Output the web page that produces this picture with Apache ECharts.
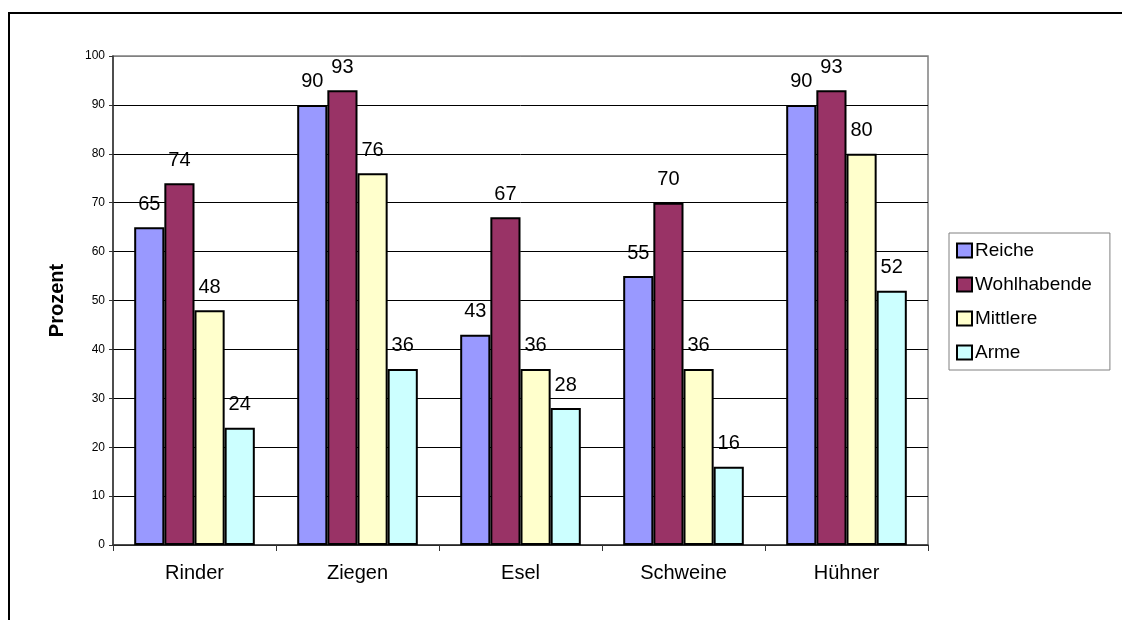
<!DOCTYPE html>
<html>
<head>
<meta charset="utf-8">
<script src="https://cdn.jsdelivr.net/npm/echarts@6/dist/echarts.min.js"></script>
<style>
  html, body { margin: 0; padding: 0; background: #fff; }
  #chart { width: 1122px; height: 620px; }
</style>
</head>
<body>
<div id="chart"></div>
<script>
const categories = ['Rinder', 'Ziegen', 'Esel', 'Schweine', 'Hühner']
const reiche = [65, 90, 43, 55, 90]
const wohlhabende = [74, 93, 67, 70, 93]
const mittlere = [48, 76, 36, 36, 80]
const arme = [24, 36, 28, 16, 52]
const yTicks = [0, 10, 20, 30, 40, 50, 60, 70, 80, 90, 100]

const font = 'Arial, "Liberation Sans", sans-serif'

function barSeries(name, data, color) {
  return {
    name: name,
    type: 'bar',
    data: data,
    barGap: '0%',
    barCategoryGap: '26%',
    itemStyle: { color: color, borderColor: '#000', borderWidth: 2 },
    label: {
      show: true,
      position: 'top',
      distance: 13,
      color: '#000',
      fontSize: 20,
      fontFamily: font
    }
  }
}

const myChart = echarts.init(document.getElementById('chart'))
myChart.setOption({
  animation: false,
  backgroundColor: '#fff',
  textStyle: { fontFamily: font },
  graphic: [{
    type: 'rect',
    shape: { x: 9, y: 13, width: 1200, height: 700 },
    style: { fill: 'none', stroke: '#000', lineWidth: 2 }
  }],
  grid: {
    left: 113, right: 194, top: 56, bottom: 75,
    show: true, borderColor: '#808080', borderWidth: 1.5
  },
  legend: {
    orient: 'vertical',
    left: 949, top: 233,
    padding: [8, 18, 8, 7],
    borderColor: '#808080', borderWidth: 1,
    itemWidth: 15, itemHeight: 14, itemGap: 15,
    icon: 'rect',
    itemStyle: { borderColor: '#000', borderWidth: 2 },
    textStyle: { fontSize: 19, color: '#000', fontFamily: font, padding: [0, 0, 0, -2] },
    data: ['Reiche', 'Wohlhabende', 'Mittlere', 'Arme']
  },
  xAxis: {
    type: 'category',
    data: categories,
    axisLine: { lineStyle: { color: '#333', width: 1.5 } },
    axisTick: { show: true, length: 6, lineStyle: { color: '#333' } },
    axisLabel: { fontSize: 20, color: '#000', margin: 18 }
  },
  yAxis: {
    type: 'value',
    min: yTicks[0], max: yTicks[yTicks.length - 1], interval: 10,
    name: 'Prozent',
    nameLocation: 'middle',
    nameGap: 46,
    nameRotate: 90,
    nameTextStyle: { fontSize: 20, fontWeight: 'bold', color: '#000' },
    axisLine: { show: true, lineStyle: { color: '#333', width: 1.5 } },
    axisTick: { show: true, length: 4, lineStyle: { color: '#333' } },
    axisLabel: { fontSize: 12, color: '#000', margin: 8 },
    splitLine: {
      show: true,
      lineStyle: {
        color: yTicks.map((t, i) => i === yTicks.length - 1 ? '#808080' : '#000'),
        width: 1
      }
    }
  },
  series: [
    barSeries('Reiche', reiche, '#9999FF'),
    barSeries('Wohlhabende', wohlhabende, '#993366'),
    barSeries('Mittlere', mittlere, '#FFFFCC'),
    barSeries('Arme', arme, '#CCFFFF')
  ]
})
</script>
</body>
</html>
